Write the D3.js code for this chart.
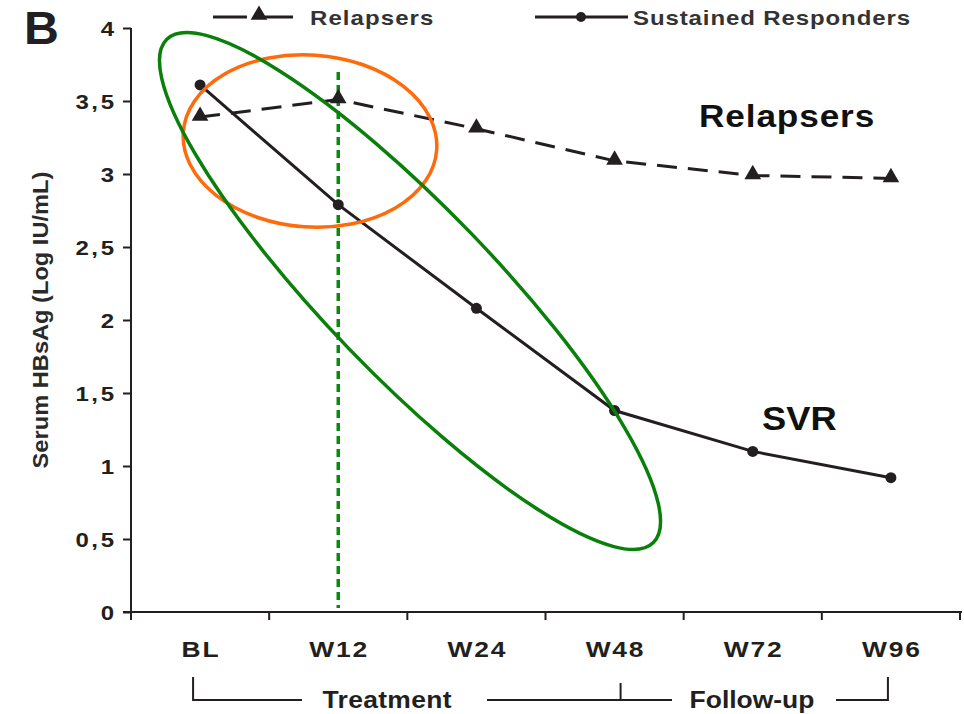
<!DOCTYPE html>
<html>
<head>
<meta charset="utf-8">
<script src="https://cdn.jsdelivr.net/npm/d3@7"></script>
<style>
  html, body { margin: 0; padding: 0; background: #fff; }
  svg { display: block; font-family: "Liberation Sans", Arial, sans-serif; }
</style>
</head>
<body>
<svg id="chart" width="964" height="714"></svg>
<script>
// Visits and serum HBsAg (log IU/mL) per group
const visits = ["BL", "W12", "W24", "W48", "W72", "W96"];
const relapsers = [3.39, 3.51, 3.31, 3.09, 2.99, 2.97];
const sustainedResponders = [3.61, 2.79, 2.08, 1.38, 1.10, 0.92];
const yTicks = [0, 0.5, 1, 1.5, 2, 2.5, 3, 3.5, 4];
const legendNames = ["Relapsers", "Sustained Responders"];

const svg = d3.select("#chart");
const ink = "#231f20";

const x = d3.scaleBand().domain(visits).range([131, 960]);
const y = d3.scaleLinear().domain([0, 4]).range([612, 28]);
const cx = v => x(v) + x.bandwidth() / 2;
const fmt = d => String(d).replace(".", ",");

// Bold label with horizontally widened glyphs
function label(parent, px, py, txt, o) {
  const g = parent.append("g")
    .attr("transform", `translate(${px},${py})${o.rot ? ` rotate(${o.rot})` : ""} scale(${o.sx || 1},1)`);
  return g.append("text")
    .attr("text-anchor", o.anchor || "start")
    .attr("font-size", o.size).attr("font-weight", "bold")
    .attr("letter-spacing", o.ls || 0)
    .attr("dx", o.anchor === "end" ? (o.ls || 0) : o.anchor === "middle" ? (o.ls || 0) / 2 : 0)
    .attr("fill", o.fill || ink).text(txt);
}

// Panel letter
label(svg, 24, 44, "B", { size: 46, sx: 1.05 });

// Y axis
const yAxis = svg.append("g").attr("transform", "translate(131,0)")
  .call(d3.axisLeft(y).tickValues(yTicks).tickFormat(fmt).tickSize(8).tickPadding(8));
yAxis.select(".domain").attr("stroke", ink).attr("stroke-width", 2).attr("d", "M0,28V612");
yAxis.selectAll(".tick line").attr("stroke", ink).attr("stroke-width", 2);
yAxis.selectAll(".tick text").remove();
yAxis.selectAll(".tick").each(function (d) {
  label(d3.select(this), -17, 7, fmt(d), { size: 20, sx: 1.2, ls: 2.2, anchor: "end" });
});

// X axis: ticks at band edges, labels at band centres
const xg = svg.append("g").attr("transform", "translate(0,612)");
xg.append("line").attr("x1", 123).attr("x2", 962).attr("y1", 0).attr("y2", 0)
  .attr("stroke", ink).attr("stroke-width", 2);
const edges = visits.map(v => x(v)).concat([x.range()[1]]);
xg.selectAll("line.tk").data(edges).join("line").attr("class", "tk")
  .attr("x1", d => d).attr("x2", d => d).attr("y1", 0).attr("y2", 8)
  .attr("stroke", ink).attr("stroke-width", 2);
visits.forEach(v => label(xg, cx(v), 45, v, { size: 22, sx: 1.2, ls: 1.5, anchor: "middle" }));

// Y axis title
label(svg, 48, 320, "Serum HBsAg (Log IU/mL)",
  { size: 22, sx: 1.075, rot: -90, anchor: "middle", fill: "#2a2a2a" });

// Treatment / Follow-up brackets
const by = 700, bt = 677;
const bk = svg.append("g").attr("stroke", ink).attr("stroke-width", 2).attr("fill", "none");
bk.append("path").attr("d", `M${cx("BL") - 7},${bt}V${by}H302`);
bk.append("path").attr("d", `M487,${by}H672`);
bk.append("path").attr("d", `M${cx("W48") + 6},${bt + 6}V${by}`);
bk.append("path").attr("d", `M836,${by}H${cx("W96") - 3}V${bt}`);
label(svg, 387, 708, "Treatment", { size: 23, sx: 1.15, ls: 0.3, anchor: "middle" });
label(svg, 752, 708, "Follow-up", { size: 23, sx: 1.15, anchor: "middle" });

// Week 12 marker
svg.append("line").attr("x1", cx("W12")).attr("x2", cx("W12"))
  .attr("y1", 72).attr("y2", 608)
  .attr("stroke", "#0a8a0a").attr("stroke-width", 3.5).attr("stroke-dasharray", "8,5");

// Series lines
const line = d3.line().x((d, i) => cx(visits[i])).y(d => y(d));
svg.append("path").datum(relapsers).attr("d", line).attr("fill", "none")
  .attr("stroke", ink).attr("stroke-width", 3).attr("stroke-dasharray", "20,11");
svg.append("path").datum(sustainedResponders).attr("d", line).attr("fill", "none")
  .attr("stroke", ink).attr("stroke-width", 3);

const tri = d3.symbol().type(d3.symbolTriangle).size(120);
svg.selectAll("path.tri").data(relapsers).join("path").attr("class", "tri")
  .attr("d", tri).attr("fill", ink)
  .attr("transform", (d, i) => `translate(${cx(visits[i])},${y(d) - 1})`);
svg.selectAll("circle.dot").data(sustainedResponders).join("circle").attr("class", "dot")
  .attr("cx", (d, i) => cx(visits[i])).attr("cy", d => y(d)).attr("r", 5.5).attr("fill", ink);

// Highlight ellipses
svg.append("ellipse").attr("cx", 0).attr("cy", 0).attr("rx", 127).attr("ry", 86)
  .attr("transform", "translate(310,141) rotate(4)")
  .attr("fill", "none").attr("stroke", "#ff6a0a").attr("stroke-width", 3.5);
svg.append("ellipse").attr("cx", 0).attr("cy", 0).attr("rx", 350).attr("ry", 84)
  .attr("transform", "translate(410,291) rotate(46)")
  .attr("fill", "none").attr("stroke", "#0a800a").attr("stroke-width", 3.5);

// In-plot group labels
label(svg, 699, 127, "Relapsers", { size: 32, sx: 1.1, ls: 0.8, fill: "#111" });
label(svg, 762, 430, "SVR", { size: 33, sx: 1.1, fill: "#111" });

// Legend
const lg = svg.append("g");
lg.append("line").attr("x1", 213).attr("x2", 247).attr("y1", 17).attr("y2", 17)
  .attr("stroke", ink).attr("stroke-width", 3);
lg.append("line").attr("x1", 259).attr("x2", 293).attr("y1", 17).attr("y2", 17)
  .attr("stroke", ink).attr("stroke-width", 3);
lg.append("path").attr("d", tri).attr("fill", ink).attr("transform", "translate(259,15)");
label(lg, 310, 25, legendNames[0], { size: 20, sx: 1.2, ls: 0.9, fill: "#333" });
lg.append("line").attr("x1", 535).attr("x2", 628).attr("y1", 17).attr("y2", 17)
  .attr("stroke", ink).attr("stroke-width", 3);
lg.append("circle").attr("cx", 581).attr("cy", 17).attr("r", 5).attr("fill", ink);
label(lg, 633, 25, legendNames[1], { size: 20, sx: 1.2, ls: 0.75, fill: "#333" });
</script>
</body>
</html>
